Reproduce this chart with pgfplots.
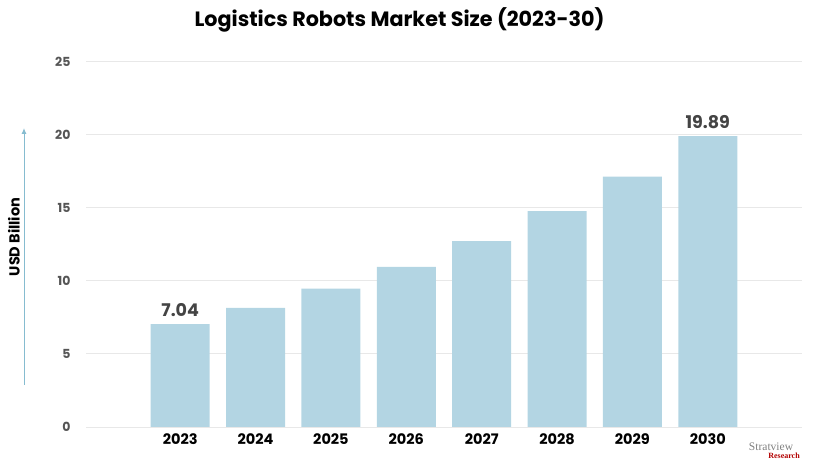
\documentclass[border=0pt]{standalone}
\usepackage{fontspec}
\setmainfont{Poppins}
\newfontfamily\seriffont{Liberation Serif}
\usepackage{pgfplots}
\pgfplotsset{compat=1.18}
\usetikzlibrary{arrows.meta}
\definecolor{barblue}{HTML}{B3D5E3}
\definecolor{gridgray}{HTML}{E8E8E8}
\definecolor{arrowblue}{HTML}{86BCD0}
\definecolor{ticklab}{HTML}{555555}
\definecolor{vallab}{HTML}{444444}
\begin{document}
\begin{tikzpicture}[x=1pt,y=1pt]
\useasboundingbox (0,0) rectangle (813,462);
\begin{axis}[
  at={(86pt,35pt)}, anchor=south west,
  scale only axis, width=716pt, height=365.5pt,
  xmin=-1.25, xmax=8.25, ymin=0, ymax=25,
  ytick={0,5,10,15,20,25},
  xtick={0,1,2,3,4,5,6,7},
  xticklabels={2023,2024,2025,2026,2027,2028,2029,2030},
  ybar, bar width=59pt,
  axis line style={draw=none},
  ymajorgrids, grid style={gridgray, line width=0.9pt},
  major tick length=0pt,
  /pgf/number format/assume math mode=true,
  xticklabel style={font=\bfseries\fontsize{14.5}{14.5}\selectfont, text=black, yshift=-3pt},
  yticklabel style={font=\bfseries\fontsize{12.5}{12.5}\selectfont, text=ticklab, xshift=-12pt},
  clip=false,
]
\addplot[fill=barblue, draw=none] coordinates {
  (0,7.04) (1,8.14) (2,9.46) (3,10.96) (4,12.72) (5,14.77) (6,17.12) (7,19.89)
};
\node[above, font=\bfseries\fontsize{17.5}{17.5}\selectfont, text=vallab, yshift=4pt] at (axis cs:0,7.04) {7.04};
\node[above, font=\bfseries\fontsize{17.5}{17.5}\selectfont, text=vallab, yshift=4pt] at (axis cs:7,19.89) {19.89};
\end{axis}
\node[font=\bfseries\fontsize{20.7}{20.7}\selectfont] at (399.5,442) {Logistics Robots Market Size (2023-30)};
\node[rotate=90, font=\bfseries\fontsize{14.5}{14.5}\selectfont] at (14,225) {USD Billion};
\draw[arrowblue, line width=1pt, -{Latex[length=6pt,width=5pt]}] (24,77) -- (24,334);
\node[font=\seriffont\fontsize{11.5}{11.5}\selectfont, text=gray] at (771,15) {Stratview};
\node[font=\seriffont\bfseries\fontsize{8}{8}\selectfont, text=red!70!black] at (784,6) {Research};
\end{tikzpicture}
\end{document}
